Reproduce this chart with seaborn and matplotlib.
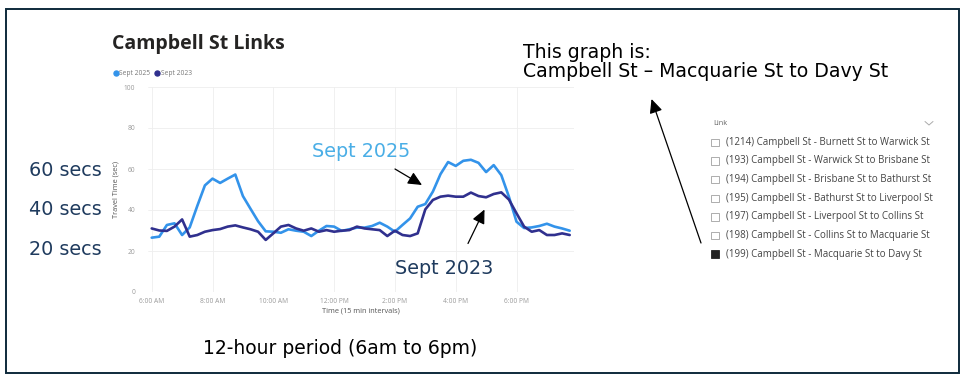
import numpy as np
import pandas as pd
import matplotlib
matplotlib.use("Agg")
import matplotlib.pyplot as plt
import seaborn as sns
from matplotlib.patches import Rectangle, FancyArrowPatch
from matplotlib.lines import Line2D

# ---------------- data ----------------
series_names = ["Sept 2025", "Sept 2023"]
time_labels = ["6:00 AM", "8:00 AM", "10:00 AM", "12:00 PM", "2:00 PM", "4:00 PM", "6:00 PM"]
y_ticks = [0, 20, 40, 60, 80, 100]

# travel time (sec) every 15 min from 6:00 AM to 7:45 PM
sept_2025 = [26.5, 27.0, 32.7, 33.5, 27.8, 31.5, 42.0, 52.0, 55.3, 53.2,
             55.3, 57.3, 46.8, 40.6, 34.5, 29.6, 29.4, 28.9, 30.6, 29.9,
             29.4, 27.3, 29.9, 32.2, 31.9, 29.8, 30.6, 31.4, 31.4, 32.2,
             33.8, 31.9, 29.4, 32.7, 35.9, 41.6, 42.9, 49.0, 57.5, 63.4,
             61.5, 64.0, 64.5, 63.0, 58.5, 61.9, 57.0, 46.5, 34.3, 31.2,
             31.5, 32.2, 33.3, 31.9, 31.0, 29.9]
sept_2023 = [31.0, 30.0, 29.8, 31.9, 35.4, 27.0, 27.8, 29.4, 30.2, 30.7,
             31.9, 32.5, 31.5, 30.6, 29.4, 25.4, 28.6, 31.9, 32.7, 31.0,
             29.9, 31.0, 29.4, 30.2, 29.4, 29.9, 30.2, 31.9, 31.0, 30.6,
             30.2, 27.3, 29.9, 27.8, 27.3, 28.6, 40.3, 44.9, 46.5, 47.0,
             46.5, 46.5, 48.5, 46.8, 46.2, 47.8, 48.6, 45.1, 38.4, 31.9,
             29.4, 30.2, 27.8, 27.8, 28.6, 27.8]

links = ["(1214) Campbell St - Burnett St to Warwick St",
         "(193) Campbell St - Warwick St to Brisbane St",
         "(194) Campbell St - Brisbane St to Bathurst St",
         "(195) Campbell St - Bathurst St to Liverpool St",
         "(197) Campbell St - Liverpool St to Collins St",
         "(198) Campbell St - Collins St to Macquarie St",
         "(199) Campbell St - Macquarie St to Davy St"]
selected_link = 6

# ---------------- styling ----------------
c25 = "#3393ea"
c23 = "#30308e"
navy_txt = "#1f3b5e"
sky_txt = "#4aaee6"
border_c = "#0e2a3b"
ann_font = ["DejaVu Sans"]

W, H = 963, 379
def fx(x): return x / W
def fy(y): return 1 - y / H

sns.set_theme(style="white")
plt.rcParams['font.family'] = ['Open Sans', 'DejaVu Sans']

fig = plt.figure(figsize=(9.63, 3.79), dpi=100)
fig.patch.set_facecolor("white")

ax = fig.add_axes([fx(147.9), fy(292), fx(573.5) - fx(147.9), fy(87) - fy(292)])

n = len(sept_2025)
idx = np.arange(n)
df = pd.DataFrame({
    "interval": np.concatenate([idx, idx]),
    "value": sept_2025 + sept_2023,
    "series": [series_names[0]] * n + [series_names[1]] * n,
})
sns.lineplot(data=df, x="interval", y="value", hue="series",
             palette={series_names[0]: c25, series_names[1]: c23},
             linewidth=1.9, ax=ax, legend=False)

ax.set_xlim(-0.5, n - 0.5)
ax.set_ylim(0, 100)
ax.set_xticks(np.arange(0, 8 * len(time_labels), 8))
ax.set_xticklabels(time_labels)
ax.set_yticks(y_ticks)
ax.tick_params(axis="both", length=0, labelsize=4.8, labelcolor="#9a9a9a")
ax.tick_params(axis="x", pad=4)
ax.tick_params(axis="y", pad=9)
ax.grid(True, color="#eeeeee", linewidth=0.6)
ax.set_axisbelow(True)
for s in ax.spines.values():
    s.set_visible(False)
ax.set_xlabel("Time (15 min intervals)", fontsize=5.3, color="#555555", labelpad=2)
ax.set_ylabel("Travel Time (sec)", fontsize=5.3, color="#555555", labelpad=3)

# legend (Power BI style)
handles = [Line2D([], [], marker="o", linestyle="", color=c, markersize=3.6)
           for c in (c25, c23)]
ax.legend(handles, series_names, loc="center left", bbox_to_anchor=(fx(109), fy(73.5)),
          bbox_transform=fig.transFigure, ncol=2, frameon=False, fontsize=4.8,
          handletextpad=0.0, columnspacing=0.6, handlelength=1.0, borderpad=0,
          labelcolor="#777777")

# title
fig.text(fx(111.5), fy(48.5), "Campbell St Links", fontsize=14, fontweight="bold",
         color="#252423", ha="left", va="baseline")

# left annotations
for lab, yb in (("60 secs", 176), ("40 secs", 215), ("20 secs", 255)):
    fig.text(fx(29), fy(yb), lab, fontsize=13.8, color=navy_txt, ha="left", va="baseline",
             family=ann_font)

fig.text(fx(312), fy(157.5), "Sept 2025", fontsize=13.8, color=sky_txt, ha="left",
         va="baseline", family=ann_font)
fig.text(fx(395), fy(273.5), "Sept 2023", fontsize=13.8, color=navy_txt, ha="left",
         va="baseline", family=ann_font)
fig.text(fx(203), fy(354), "12-hour period (6am to 6pm)", fontsize=13.5, color="black",
         ha="left", va="baseline", family=ann_font)
fig.text(fx(523), fy(57.7), "This graph is:", fontsize=13.6, color="black", ha="left",
         va="baseline", family=ann_font)
fig.text(fx(523), fy(76.7), "Campbell St \u2013 Macquarie St to Davy St", fontsize=13.6,
         color="black", ha="left", va="baseline", family=ann_font)

# arrows
def arrow(x0, y0, x1, y1):
    a = FancyArrowPatch((fx(x0), fy(y0)), (fx(x1), fy(y1)), transform=fig.transFigure,
                        arrowstyle="-|>,head_length=0.6,head_width=0.28", mutation_scale=14,
                        color="black", linewidth=0.9, shrinkA=0, shrinkB=0)
    fig.patches.append(a)

arrow(395, 169, 422, 185)
arrow(468, 243.5, 484.5, 209.5)
arrow(701, 243, 651.5, 99)

# slicer
fig.text(fx(713), fy(124), "Link", fontsize=5.3, color="#666666", ha="left", va="center")
fig.lines.append(Line2D([fx(925), fx(929), fx(933)], [fy(121.5), fy(125), fy(121.5)],
                        transform=fig.transFigure, color="#aaaaaa", linewidth=0.7))
row_y = [142.3, 161.0, 179.5, 198.3, 216.8, 235.5, 254.0]
for i, (lab, yc) in enumerate(zip(links, row_y)):
    sel = (i == selected_link)
    r = Rectangle((fx(711), fy(yc + 3.8)), fx(7.6), 7.6 / H, transform=fig.transFigure,
                  facecolor="#222222" if sel else "white",
                  edgecolor="#222222" if sel else "#a0a0a0", linewidth=0.6)
    fig.patches.append(r)
    fig.text(fx(725.5), fy(yc), lab, fontsize=7.0, color="#444444", ha="left", va="center")

# outer frame
frame = Rectangle((fx(6), fy(372.5)), fx(953), (372.5 - 9) / H, transform=fig.transFigure,
                  fill=False, edgecolor=border_c, linewidth=1.4)
fig.patches.append(frame)

fig.savefig("out.png", dpi=100, facecolor="white")
